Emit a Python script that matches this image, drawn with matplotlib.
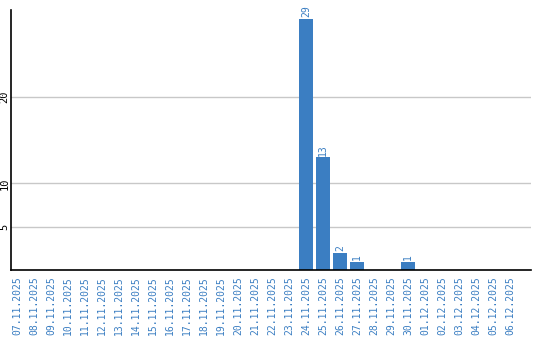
import matplotlib

matplotlib.use("Agg")
import matplotlib.pyplot as plt

dates = [
    "07.11.2025", "08.11.2025", "09.11.2025", "10.11.2025", "11.11.2025",
    "12.11.2025", "13.11.2025", "14.11.2025", "15.11.2025", "16.11.2025",
    "17.11.2025", "18.11.2025", "19.11.2025", "20.11.2025", "21.11.2025",
    "22.11.2025", "23.11.2025", "24.11.2025", "25.11.2025", "26.11.2025",
    "27.11.2025", "28.11.2025", "29.11.2025", "30.11.2025", "01.12.2025",
    "02.12.2025", "03.12.2025", "04.12.2025", "05.12.2025", "06.12.2025",
]
counts = [0] * 17 + [29, 13, 2, 1, 0, 0, 1] + [0] * 6
y_ticks = [5, 10, 20]

blue = "#3b7ec2"

figure = plt.figure(figsize=(5.4, 3.4), dpi=100)
axes = figure.add_axes((0.0204, 0.205, 0.963, 0.766))

positions = list(range(len(dates)))
axes.bar(positions, counts, width=0.82, color=blue, zorder=2)
for position, value in zip(positions, counts):
    if value > 0:
        axes.text(
            position, value + 0.2, str(value),
            rotation=90, ha="center", va="bottom",
            color=blue, family="DejaVu Sans Mono", fontsize=7,
        )

axes.set_xlim(-0.35, 30.24)
axes.set_ylim(0, 30)
axes.set_yticks(y_ticks)
axes.set_yticklabels([str(t) for t in y_ticks], rotation=90, va="center",
                     family="DejaVu Sans Mono", fontsize=7.5)
axes.set_xticks(positions)
axes.set_xticklabels(dates, rotation=90, family="DejaVu Sans Mono",
                     fontsize=7, color=blue)
axes.tick_params(axis="x", length=0, pad=4)
axes.tick_params(axis="y", length=0, pad=1)
axes.yaxis.grid(True, color="#c8c8c8", linewidth=1, zorder=0)
axes.set_axisbelow(True)
for side in ["top", "right"]:
    axes.spines[side].set_visible(False)
for side in ["left", "bottom"]:
    axes.spines[side].set_color("black")
    axes.spines[side].set_linewidth(1.2)

figure.savefig("out.png", dpi=100)
